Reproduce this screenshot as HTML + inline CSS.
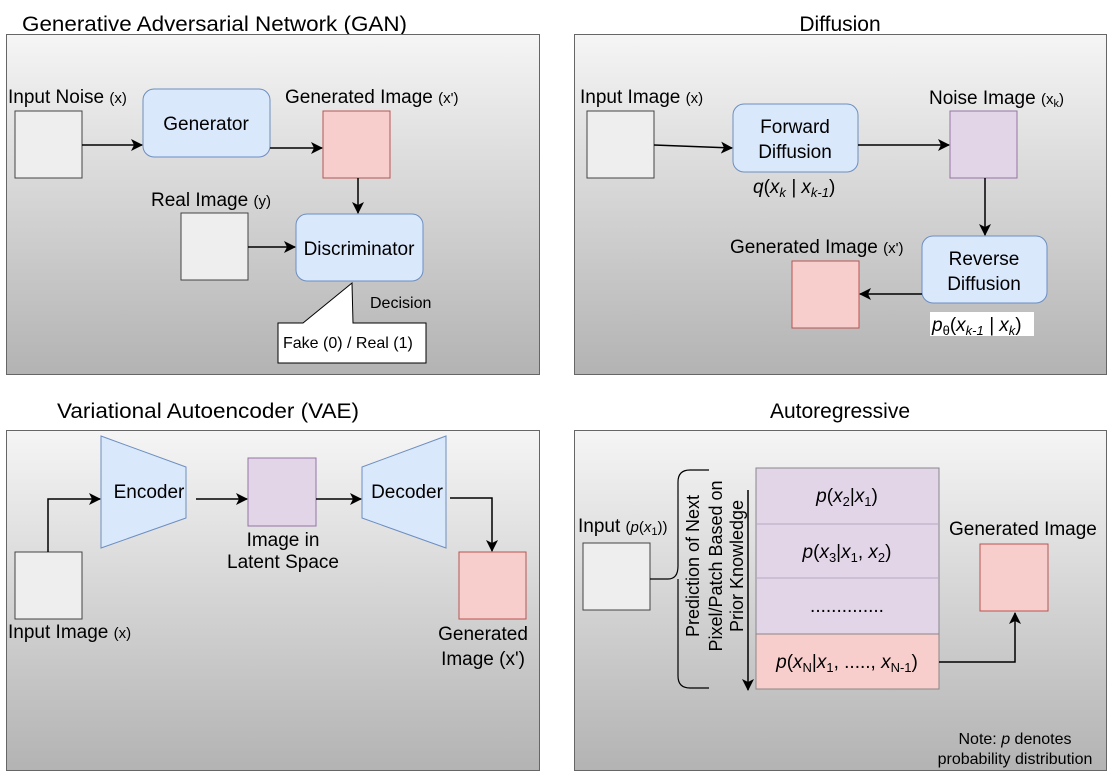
<!DOCTYPE html>
<html><head><meta charset="utf-8"><style>
html,body{margin:0;padding:0;background:#fff;}
svg{display:block;font-family:"Liberation Sans",Arial,sans-serif;}
</style></head><body>
<svg width="1109" height="784" viewBox="0 0 1109 784" xmlns="http://www.w3.org/2000/svg">
<defs>
<linearGradient id="g" x1="0" y1="0" x2="0" y2="1"><stop offset="0" stop-color="#f5f5f5"/><stop offset="1" stop-color="#b3b3b3"/></linearGradient>
<marker id="a" markerWidth="12" markerHeight="12" refX="11" refY="6" orient="auto" markerUnits="userSpaceOnUse"><path d="M0,0 L12,6 L0,12 L3,6 Z" fill="#000"/></marker>
</defs>
<g font-size="21" fill="#000">
<text x="22" y="31" textLength="385" lengthAdjust="spacingAndGlyphs">Generative Adversarial Network (GAN)</text>
<text x="840" y="31" text-anchor="middle">Diffusion</text>
<text x="57" y="418" textLength="302" lengthAdjust="spacingAndGlyphs">Variational Autoencoder (VAE)</text>
<text x="840" y="418" text-anchor="middle">Autoregressive</text>
</g>
<g fill="url(#g)" stroke="#666" stroke-width="1">
<rect x="6.5" y="34.5" width="533" height="340"/>
<rect x="574.5" y="34.5" width="532" height="340"/>
<rect x="6.5" y="430.5" width="533" height="340"/>
<rect x="574.5" y="430.5" width="532" height="340"/>
</g>
<g font-size="19" stroke="none">
<!-- GAN -->
<text x="8" y="103">Input Noise <tspan font-size="15">(x)</tspan></text>
<rect x="15" y="111" width="67" height="67" fill="#eee" stroke="#444"/>
<rect x="143" y="89" width="127" height="68" rx="11" fill="#dae8fc" stroke="#6c8ebf"/>
<text x="206" y="130" text-anchor="middle">Generator</text>
<text x="285" y="103">Generated Image <tspan font-size="15">(x')</tspan></text>
<rect x="323" y="111" width="67" height="67" fill="#f8cecc" stroke="#b85450"/>
<text x="151" y="206">Real Image <tspan font-size="15">(y)</tspan></text>
<rect x="181" y="213" width="67" height="67" fill="#eee" stroke="#444"/>
<rect x="296" y="214" width="127" height="67" rx="11" fill="#dae8fc" stroke="#6c8ebf"/>
<text x="359" y="255" text-anchor="middle">Discriminator</text>
<text x="370" y="308" font-size="16">Decision</text>
<path d="M278,323 L303,323 L352,283 L353,323 L426,323 L426,363 L278,363 Z" fill="#fff" stroke="#000"/>
<text x="283" y="348" font-size="16">Fake (0) / Real (1)</text>
<g stroke="#000" stroke-width="1.5" fill="none" marker-end="url(#a)">
<path d="M82,145 H142"/><path d="M270,148 H322"/><path d="M358,178 V213"/><path d="M248,247 H295"/>
</g>
<!-- Diffusion -->
<text x="580" y="103">Input Image <tspan font-size="15">(x)</tspan></text>
<rect x="587" y="111" width="67" height="67" fill="#eee" stroke="#444"/>
<rect x="733" y="104" width="125" height="68" rx="11" fill="#dae8fc" stroke="#6c8ebf"/>
<text x="795" y="133" text-anchor="middle">Forward</text>
<text x="795" y="158" text-anchor="middle">Diffusion</text>
<text x="753" y="193" font-style="italic">q<tspan font-style="normal">(</tspan>x<tspan font-size="13" dy="4">k</tspan><tspan dy="-4"> | x</tspan><tspan font-size="13" dy="4">k-1</tspan><tspan dy="-4" font-style="normal">)</tspan></text>
<text x="929" y="104">Noise Image <tspan font-size="15">(x</tspan><tspan font-size="11" dy="3">k</tspan><tspan font-size="15" dy="-3">)</tspan></text>
<rect x="950" y="111" width="67" height="67" fill="#e1d5e7" stroke="#9673a6"/>
<rect x="922" y="236" width="125" height="67" rx="11" fill="#dae8fc" stroke="#6c8ebf"/>
<text x="984" y="265" text-anchor="middle">Reverse</text>
<text x="984" y="290" text-anchor="middle">Diffusion</text>
<text x="730" y="253">Generated Image <tspan font-size="15">(x')</tspan></text>
<rect x="792" y="261" width="67" height="67" fill="#f8cecc" stroke="#b85450"/>
<rect x="930" y="312" width="104" height="24" fill="#fff"/>
<text x="932" y="331" font-style="italic">p<tspan font-size="13" dy="4" font-style="normal">θ</tspan><tspan dy="-4" font-style="normal">(</tspan>x<tspan font-size="13" dy="4">k-1</tspan><tspan dy="-4"> | x</tspan><tspan font-size="13" dy="4">k</tspan><tspan dy="-4" font-style="normal">)</tspan></text>
<g stroke="#000" stroke-width="1.5" fill="none" marker-end="url(#a)">
<path d="M654,145 L732,148"/><path d="M858,145 H949"/><path d="M985,178 V235"/><path d="M922,294 H860"/>
</g>
<!-- VAE -->
<path d="M101,436 L186,467 L186,518 L101,548 Z" fill="#dae8fc" stroke="#6c8ebf"/>
<text x="149" y="498" text-anchor="middle">Encoder</text>
<path d="M446,436 L362,467 L362,518 L446,548 Z" fill="#dae8fc" stroke="#6c8ebf"/>
<text x="407" y="498" text-anchor="middle">Decoder</text>
<rect x="248" y="458" width="68" height="68" fill="#e1d5e7" stroke="#9673a6"/>
<text x="283" y="546" text-anchor="middle">Image in</text>
<text x="283" y="568" text-anchor="middle">Latent Space</text>
<rect x="15" y="552" width="67" height="67" fill="#eee" stroke="#444"/>
<text x="8" y="638">Input Image <tspan font-size="15">(x)</tspan></text>
<rect x="459" y="552" width="67" height="67" fill="#f8cecc" stroke="#b85450"/>
<text x="483" y="640" text-anchor="middle">Generated</text>
<text x="483" y="665" text-anchor="middle">Image (x')</text>
<g stroke="#000" stroke-width="1.5" fill="none" marker-end="url(#a)">
<path d="M48,552 V499 H100"/><path d="M196,499 H247"/><path d="M316,499 H361"/><path d="M450,498 H492 V551"/>
</g>
<!-- AR -->
<text x="578" y="532">Input <tspan font-size="15">(</tspan><tspan font-size="15" font-style="italic">p</tspan><tspan font-size="15">(</tspan><tspan font-size="15" font-style="italic">x</tspan><tspan font-size="11" dy="3">1</tspan><tspan font-size="15" dy="-3">))</tspan></text>
<rect x="583" y="543" width="67" height="67" fill="#eee" stroke="#444"/>
<path d="M650,579 H668 Q678,579 678,566 V482 Q678,470 690,470 H709 M678,579 V676 Q678,688 690,688 H709" fill="none" stroke="#000" stroke-width="1.2"/>
<g font-size="18">
<text transform="translate(699,566) rotate(-90)" text-anchor="middle">Prediction of Next</text>
<text transform="translate(722,566) rotate(-90)" text-anchor="middle">Pixel/Patch Based on</text>
<text transform="translate(743,566) rotate(-90)" text-anchor="middle">Prior Knowledge</text>
</g>
<rect x="756" y="468" width="183" height="221" fill="#e1d5e7" stroke="#888"/>
<rect x="756" y="634" width="183" height="55" fill="#f8cecc" stroke="#888"/>
<path d="M756,524 H939 M756,578 H939" stroke="#b8a8c0"/>
<text x="847" y="502" text-anchor="middle" font-style="italic">p<tspan font-style="normal">(</tspan>x<tspan font-size="13" dy="4" font-style="normal">2</tspan><tspan dy="-4" font-style="normal">|</tspan>x<tspan font-size="13" dy="4" font-style="normal">1</tspan><tspan dy="-4" font-style="normal">)</tspan></text>
<text x="847" y="558" text-anchor="middle" font-style="italic">p<tspan font-style="normal">(</tspan>x<tspan font-size="13" dy="4" font-style="normal">3</tspan><tspan dy="-4" font-style="normal">|</tspan>x<tspan font-size="13" dy="4" font-style="normal">1</tspan><tspan dy="-4" font-style="normal">, </tspan>x<tspan font-size="13" dy="4" font-style="normal">2</tspan><tspan dy="-4" font-style="normal">)</tspan></text>
<text x="847" y="612" text-anchor="middle">..............</text>
<text x="847" y="668" text-anchor="middle" font-style="italic">p<tspan font-style="normal">(</tspan>x<tspan font-size="13" dy="4" font-style="normal">N</tspan><tspan dy="-4" font-style="normal">|</tspan>x<tspan font-size="13" dy="4" font-style="normal">1</tspan><tspan dy="-4" font-style="normal">, ....., </tspan>x<tspan font-size="13" dy="4" font-style="normal">N-1</tspan><tspan dy="-4" font-style="normal">)</tspan></text>
<text x="949" y="535">Generated Image</text>
<rect x="980" y="544" width="68" height="67" fill="#f8cecc" stroke="#b85450"/>
<text x="1015" y="744" text-anchor="middle" font-size="16">Note: <tspan font-style="italic">p</tspan> denotes</text>
<text x="1015" y="764" text-anchor="middle" font-size="16">probability distribution</text>
<g stroke="#000" stroke-width="1.5" fill="none" marker-end="url(#a)">
<path d="M748,490 V690"/><path d="M939,662 H1015 V613"/>
</g>
</g>
</svg>
</body></html>
